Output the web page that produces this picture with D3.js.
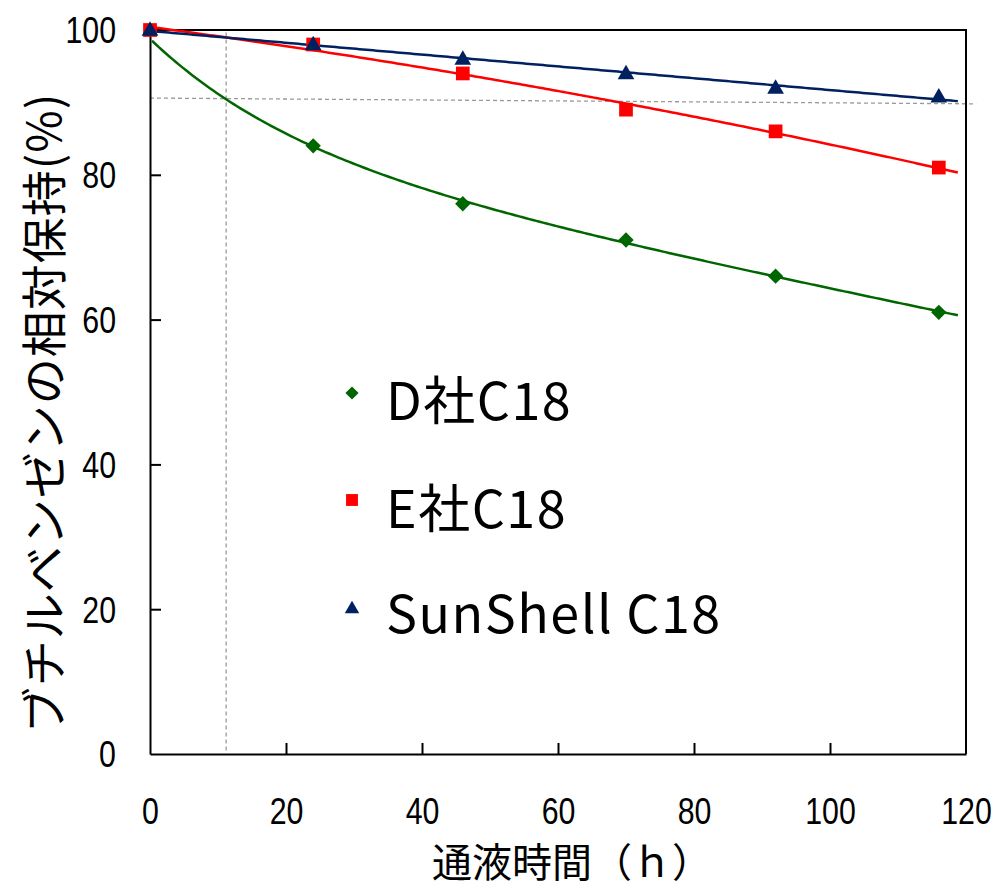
<!DOCTYPE html>
<html><head><meta charset="utf-8">
<script src="https://cdn.jsdelivr.net/npm/d3@7"></script>
<style>body{margin:0;background:#fff}svg{display:block}</style>
</head><body>
<svg id="c" width="1001" height="889"></svg>
<script>
const hours = [0, 24, 46, 70, 92, 116];
const seriesNames = ["D社C18", "E社C18", "SunShell C18"];
const dValues = [null, 84, 76, 71, 66, 61];
const eValues = [100, 98, 94, 89, 86, 81];
const sunValues = [100, 98, 96, 94, 92, 90.8];
const xTicks = [0, 20, 40, 60, 80, 100, 120];
const yTicks = [0, 20, 40, 60, 80, 100];
const guideH = [[0, 90.6], [121.5, 89.8]];
const guideV = [[11.2, 0.5], [11.2, 100]];

const colors = ["#006600", "#ff0000", "#002060"];
const svg = d3.select("#c");
const x = d3.scaleLinear().domain([0, 120]).range([150, 966]);
const y = d3.scaleLinear().domain([0, 100]).range([754, 30]);

// least-squares fit on a set of basis functions
function fit(xsAll, ysAll, basis) {
  const idx = ysAll.map((v, i) => i).filter(i => ysAll[i] != null);
  const xs = idx.map(i => xsAll[i]), ys = idx.map(i => ysAll[i]);
  const n = basis.length;
  const A = Array.from({length: n}, () => new Array(n + 1).fill(0));
  xs.forEach((xi, k) => {
    const b = basis.map(f => f(xi));
    for (let r = 0; r < n; r++) {
      for (let c = 0; c < n; c++) A[r][c] += b[r] * b[c];
      A[r][n] += ys[k] * b[r];
    }
  });
  for (let p = 0; p < n; p++) {
    let m = p;
    for (let r = p + 1; r < n; r++) if (Math.abs(A[r][p]) > Math.abs(A[m][p])) m = r;
    [A[p], A[m]] = [A[m], A[p]];
    for (let r = 0; r < n; r++) {
      if (r === p) continue;
      const f = A[r][p] / A[p][p];
      for (let c = p; c <= n; c++) A[r][c] -= f * A[p][c];
    }
  }
  const coef = A.map((row, i) => row[n] / row[i]);
  return v => basis.reduce((s, f, i) => s + coef[i] * f(v), 0);
}
const one = () => 1, lin = v => v / 100, sq = v => (v / 100) ** 2, ex = v => Math.exp(-v / 21.5);
const bases = [[one, lin, ex], [one, lin, sq], [one, lin]];

// guides
const gline = d3.line().x(d => x(d[0])).y(d => y(d[1]));
[guideH, guideV].forEach(g => svg.append("path").attr("d", gline(g))
  .attr("fill", "none").attr("stroke", "#9a9a9a").attr("stroke-width", 1.3)
  .attr("stroke-dasharray", "4,3"));

// frame
svg.append("path").attr("d", `M${x(0)},${y(100)}H${x(120)}V${y(0)}`)
  .attr("fill", "none").attr("stroke", "#000").attr("stroke-width", 2);

const sx = 0.82;
const xAxis = svg.append("g").attr("transform", `translate(0,${y(0)})`)
  .call(d3.axisBottom(x).tickValues(xTicks).tickSize(-11).tickSizeOuter(0));
const yAxis = svg.append("g").attr("transform", `translate(${x(0)},0)`)
  .call(d3.axisLeft(y).tickValues(yTicks).tickSize(-11).tickSizeOuter(0));
[xAxis, yAxis].forEach(a => {
  a.selectAll("path,line").attr("stroke", "#000").attr("stroke-width", 2);
  a.selectAll("text").attr("font-family", "'Liberation Sans', Arial, sans-serif")
    .attr("font-size", 37).attr("fill", "#000").attr("transform", `scale(${sx},1)`);
});
xAxis.selectAll("text").attr("y", 70).attr("dy", 0);
yAxis.selectAll("text").attr("x", -34 / sx).attr("dy", "0.35em");
xAxis.selectAll("line").filter(d => d === 0 || d === 120).remove();
yAxis.selectAll("line").filter(d => d === 0 || d === 100).remove();

const allSeries = [dValues, eValues, sunValues];
const line = d3.line().x(d => x(d[0])).y(d => y(d[1]));
allSeries.forEach((vals, i) => {
  const f = fit(hours, vals, bases[i]);
  const pts = d3.range(0.3, 119.3, 0.5).map(h => [h, f(h)]);
  svg.append("path").attr("d", line(pts)).attr("fill", "none")
    .attr("stroke", colors[i]).attr("stroke-width", 2.5);
});

const symbols = [d3.symbolDiamond2, d3.symbolSquare2, d3.symbolTriangle2];
const symSize = [150, 240, 200];
function marker(g, i, cx, cy, s) {
  const sym = d3.symbol().type(symbols[i]).size(s);
  g.append("path").attr("d", sym()).attr("fill", colors[i])
    .attr("transform", `translate(${cx},${cy + (i === 2 ? 1 : 0)})`);
}
allSeries.forEach((vals, i) => {
  const g = svg.append("g");
  vals.forEach((v, j) => { if (v != null) marker(g, i, x(hours[j]), y(v), symSize[i]); });
});

// legend
const legY = [393, 500, 608];
const legText = [420, 528, 633];
seriesNames.forEach((n, i) => {
  marker(svg, i, 352, legY[i], [110, 180, 150][i]);
  svg.append("text").attr("x", 386).attr("y", legText[i]).text(n)
    .attr("font-family", "'Noto Sans CJK JP', sans-serif").attr("font-size", 52)
    .attr("letter-spacing", 1.5).attr("fill", "#000");
});

svg.append("text").attr("x", 572).attr("y", 877).attr("text-anchor", "middle")
  .attr("font-family", "'Noto Sans CJK JP', sans-serif").attr("font-size", 40).text("通液時間（ｈ）");
svg.append("text").attr("transform", "translate(61,413) rotate(-90)").attr("text-anchor", "middle")
  .attr("font-family", "'Noto Sans CJK JP', sans-serif").attr("font-size", 46)
  .attr("letter-spacing", 1).text("ブチルベンゼンの相対保持(%)");
</script>
</body></html>
